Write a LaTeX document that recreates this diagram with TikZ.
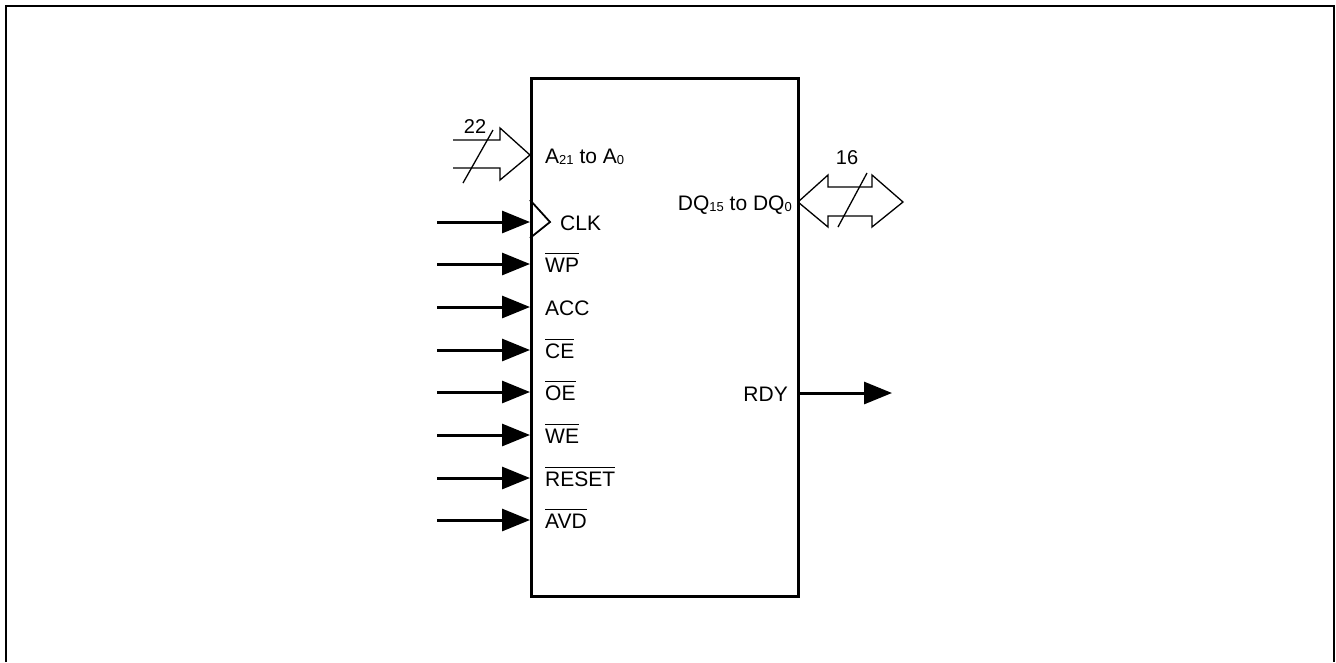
\documentclass[tikz,border=0pt]{standalone}
\usepackage{fontspec}
\setmainfont{Liberation Sans}
\usetikzlibrary{arrows.meta,positioning}

\newcommand{\ovl}[1]{\leavevmode\vbox{\hrule height 1.3pt\kern 3.5pt\hbox{#1}}}
\newcommand{\sub}[1]{\raisebox{-1.5pt}{\fontsize{13}{13}\selectfont #1}}

\begin{document}
\begin{tikzpicture}[x=1pt,y=-1pt,>={Triangle[length=28pt,width=22pt]},
  pin label/.style={anchor=base west,inner sep=0pt,font=\fontsize{21}{24}\selectfont},
  out label/.style={anchor=base east,inner sep=0pt,font=\fontsize{21}{24}\selectfont},
  bus label/.style={inner sep=0pt,font=\fontsize{20}{22}\selectfont},
  sig line/.style={->,line width=3pt},
  bus/.style={line width=1.3pt,line join=miter}]

  % frame
  \useasboundingbox (0,0) rectangle (1336,662);
  \draw[line width=2.5pt] (6,662) -- (6,6) -- (1334,6) -- (1334,662);

  % chip
  \node[draw,line width=2.8pt,inner sep=0pt,minimum width=267pt,minimum height=518pt,
    anchor=north west] (chip) at (530,77) {};

  % pins
  \coordinate (addr) at (530,155);
  \coordinate (clk) at (530,222);
  \coordinate (wp) at (530,264);
  \coordinate (acc) at (530,307);
  \coordinate (ce) at (530,350);
  \coordinate (oe) at (530,392);
  \coordinate (we) at (530,435);
  \coordinate (reset) at (530,478);
  \coordinate (avd) at (530,520);
  \coordinate (dq) at (798,202);
  \coordinate (rdy) at (797,393);

  % signal sources
  \coordinate (clk in) at (437,222);
  \coordinate (wp in) at (437,264);
  \coordinate (acc in) at (437,307);
  \coordinate (ce in) at (437,350);
  \coordinate (oe in) at (437,392);
  \coordinate (we in) at (437,435);
  \coordinate (reset in) at (437,478);
  \coordinate (avd in) at (437,520);
  \coordinate (rdy out) at (892,393);

  \draw[sig line] (clk in) -- (clk);
  \draw[sig line] (wp in) -- (wp);
  \draw[sig line] (acc in) -- (acc);
  \draw[sig line] (ce in) -- (ce);
  \draw[sig line] (oe in) -- (oe);
  \draw[sig line] (we in) -- (we);
  \draw[sig line] (reset in) -- (reset);
  \draw[sig line] (avd in) -- (avd);
  \draw[sig line] (rdy) -- (rdy out);

  % clock mark
  \draw[line width=1.8pt] ([yshift=22pt]clk) -- ([xshift=20pt]clk) -- ([yshift=-16pt]clk);

  % labels
  \node[pin label] (addr label) at (545,163) {A\sub{21} to A\sub{0}};
  \node[pin label] (clk label) at (560,230) {CLK};
  \node[pin label] (wp label) at (545,272) {\ovl{WP}};
  \node[pin label] (acc label) at (545,315) {ACC};
  \node[pin label] (ce label) at (545,358) {\ovl{CE}};
  \node[pin label] (oe label) at (545,400) {\ovl{OE}};
  \node[pin label] (we label) at (545,443) {\ovl{WE}};
  \node[pin label] (reset label) at (545,486) {\ovl{RESET}};
  \node[pin label] (avd label) at (545,528) {\ovl{AVD}};
  \node[out label] (dq label) at (792,210) {DQ\sub{15} to DQ\sub{0}};
  \node[out label] (rdy label) at (788,401) {RDY};

  % address bus
  \draw[bus] (453,140) -- (500,140) -- (500,128) -- (addr) -- (500,180) -- (500,168) -- (453,168);
  \draw[bus] (463,183) -- (493,130);
  \node[bus label] (addr width) at (475,127) {22};

  % data bus
  \draw[bus] (dq) -- (828,175) -- (828,187) -- (872,187) -- (872,175) -- (903,202)
    -- (872,227) -- (872,216) -- (828,216) -- (828,227) -- cycle;
  \draw[bus] (838,227) -- (867,173);
  \node[bus label] (dq width) at (847,158) {16};

\end{tikzpicture}
\end{document}
